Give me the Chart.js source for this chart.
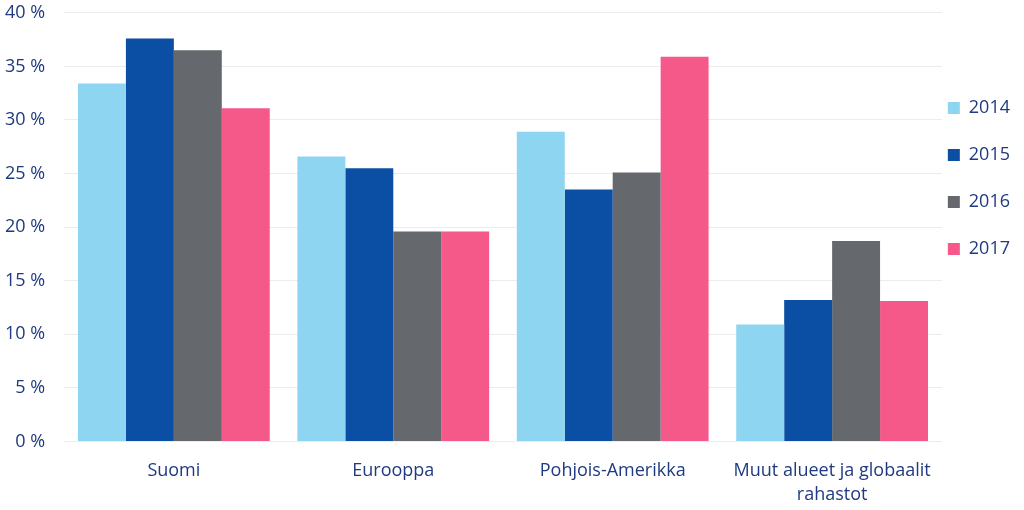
<!DOCTYPE html>
<html>
<head>
<meta charset="utf-8">
<script src="https://cdn.jsdelivr.net/npm/chart.js@4"></script>
<style>
  html, body { margin: 0; padding: 0; background: #fff; }
  #wrap { width: 1024px; height: 510px; }
</style>
</head>
<body>
<div id="wrap"><canvas id="chart"></canvas></div>
<script>
const categories = ['Suomi', 'Eurooppa', 'Pohjois-Amerikka', ['Muut alueet ja globaalit', 'rahastot']];
const years = ['2014', '2015', '2016', '2017'];
const values2014 = [33.4, 26.6, 28.9, 10.9];
const values2015 = [37.6, 25.5, 23.5, 13.2];
const values2016 = [36.5, 19.6, 25.1, 18.7];
const values2017 = [31.1, 19.6, 35.9, 13.1];
const yTicks = [0, 5, 10, 15, 20, 25, 30, 35, 40];

const colors = ['#8dd5f1', '#0a4fa3', '#65696d', '#f4598a'];
const textColor = '#1f3a80';
const font = 'Open Sans';

const ctx = document.getElementById('chart').getContext('2d');
new Chart(ctx, {
  type: 'bar',
  data: {
    labels: categories,
    datasets: [values2014, values2015, values2016, values2017].map((vals, i) => ({
      label: years[i],
      data: vals,
      backgroundColor: colors[i],
      borderWidth: 0,
      barPercentage: 1,
      categoryPercentage: 0.874
    }))
  },
  options: {
    responsive: true,
    maintainAspectRatio: false,
    animation: false,
    layout: { padding: { top: 0, bottom: -6, left: 3, right: 4 } },
    plugins: {
      tooltip: { enabled: false },
      legend: {
        position: 'right',
        align: 'start',
        title: { display: true, text: ' ', padding: { top: 81, bottom: 0 }, font: { family: font, size: 10 } },
        labels: {
          boxWidth: 12,
          boxHeight: 12,
          padding: 6,
          color: textColor,
          font: { family: font, size: 18, lineHeight: 41 / 18 },
          // text as an array so each row gets the taller line height
          generateLabels: chart => Chart.defaults.plugins.legend.labels.generateLabels(chart)
            .map(l => Object.assign(l, { text: [l.text] }))
        }
      }
    },
    scales: {
      x: {
        grid: { display: false },
        border: { display: false },
        ticks: { color: textColor, font: { family: font, size: 18, lineHeight: 1.35 }, padding: 9, maxRotation: 0 }
      },
      y: {
        min: 0,
        max: 40,
        afterBuildTicks: axis => { axis.ticks = yTicks.map(v => ({ value: v })); },
        grid: { color: '#ececec', drawTicks: true, tickLength: 17, tickColor: 'rgba(0,0,0,0)' },
        border: { display: false },
        ticks: {
          color: textColor,
          font: { family: font, size: 18, lineHeight: 1.2 },
          padding: 2,
          callback: v => v + ' %'
        }
      }
    }
  }
});
</script>
</body>
</html>
